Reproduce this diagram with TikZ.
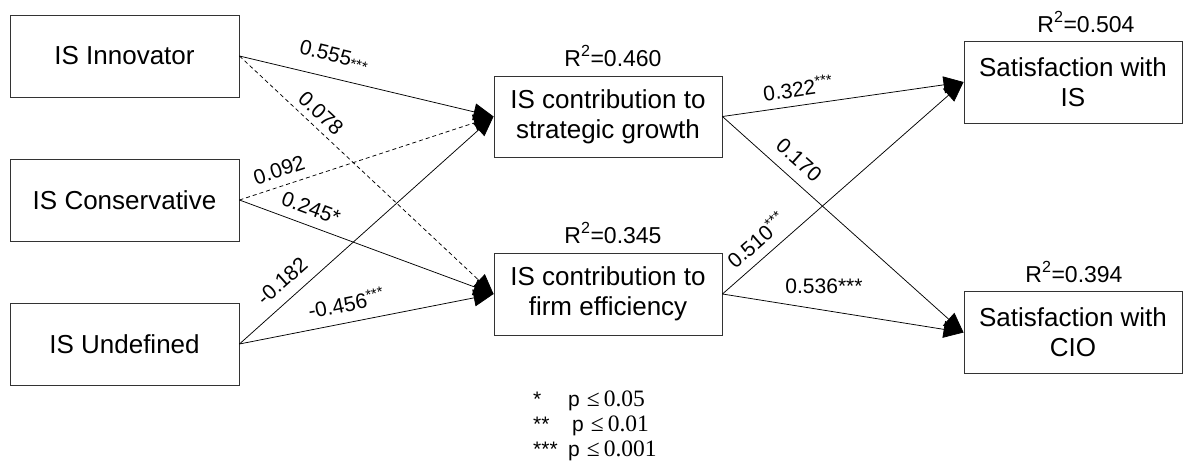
\documentclass[tikz,border=0pt]{standalone}
\usepackage{fontspec}
\setmainfont{Liberation Sans}
\newfontfamily\tms{Liberation Serif}
\usetikzlibrary{arrows.meta}
\newcommand{\legle}[1]{\hspace{7pt}{\tms\fontsize{23.5}{25}\selectfont ≤\hspace{4pt}#1}}
\begin{document}
\begin{tikzpicture}[x=1pt,y=-1pt,
  box/.style={draw=black!80,line width=0.9pt,inner sep=0pt,align=center,
    font=\fontsize{26}{30}\selectfont},
  lbox/.style={box,minimum width=229pt,minimum height=82pt},
  mbox/.style={box,minimum width=228pt,minimum height=81pt},
  rbox/.style={box,minimum width=218pt,minimum height=82pt},
  conn/.style={line width=0.75pt,-{Triangle[length=20pt,width=17pt]}},
  dconn/.style={conn,dash pattern=on 4pt off 3pt},
  lbl/.style={inner sep=0pt,font=\fontsize{21}{23}\selectfont},
  rsq/.style={inner sep=0pt,font=\fontsize{23}{25}\selectfont},
  leg/.style={inner sep=0pt,anchor=west,font=\fontsize{21}{23}\selectfont}]
\useasboundingbox (0,0) rectangle (1184,466);
% boxes
\node[lbox] (inn) at (124.5,56) {IS Innovator};
\node[lbox] (con) at (124.5,200) {IS Conservative};
\node[lbox] (und) at (124.5,344) {IS Undefined};
\node[mbox] (sg) at (608,116.5) {IS contribution to\\strategic growth};
\node[mbox,minimum height=82pt] (fe) at (608,294) {IS contribution to\\firm efficiency};
\node[rbox] (sis) at (1073,82) {Satisfaction with\\IS};
\node[rbox] (scio) at (1073,332.5) {Satisfaction with\\CIO};
% R squared
\node[rsq] (r1) at (613,56) {R\textsuperscript{2}=0.460};
\node[rsq] (r2) at (613,233) {R\textsuperscript{2}=0.345};
\node[rsq] (r3) at (1086,22) {R\textsuperscript{2}=0.504};
\node[rsq] (r4) at (1074,272) {R\textsuperscript{2}=0.394};
% connectors
\draw[conn] (inn.east) -- (sg.west);
\draw[dconn] (inn.east) -- (fe.west);
\draw[dconn] (con.east) -- (sg.west);
\draw[conn] (con.east) -- (fe.west);
\draw[conn] (und.east) -- (sg.west);
\draw[conn] (und.east) -- (fe.west);
\draw[conn] (sg.east) -- (sis.west);
\draw[conn] (sg.east) -- (scio.west);
\draw[conn] (fe.east) -- (sis.west);
\draw[conn] (fe.east) -- (scio.west);
% labels
\node[lbl,rotate=-13.3] (l1) at (334,56) {0.555\raisebox{-3pt}{\fontsize{15}{15}\selectfont***}};
\node[lbl,rotate=-43] (l2) at (321,113) {0.078};
\node[lbl,rotate=18.1] (l3) at (279,170) {0.092};
\node[lbl,rotate=-20.2] (l4) at (311,208) {0.245*};
\node[lbl,rotate=41.7] (l5) at (282,281) {-0.182};
\node[lbl,rotate=11.1] (l6) at (346,303) {-0.456\textsuperscript{***}};
\node[lbl,rotate=8.1] (l7) at (798,88) {0.322\textsuperscript{***}};
\node[lbl,rotate=-41.8] (l8) at (799,160) {0.170};
\node[lbl,rotate=41.2] (l9) at (756,240) {0.510\textsuperscript{***}};
\node[lbl] (l10) at (824,286) {0.536***};
% legend
\node[leg] (g1) at (533,401) {\makebox[35pt][l]{*}p\legle{0.05}};
\node[leg] (g2) at (533,426) {\makebox[39pt][l]{**}p\legle{0.01}};
\node[leg] (g3) at (533,451) {\makebox[35pt][l]{***}p\legle{0.001}};
\end{tikzpicture}
\end{document}
